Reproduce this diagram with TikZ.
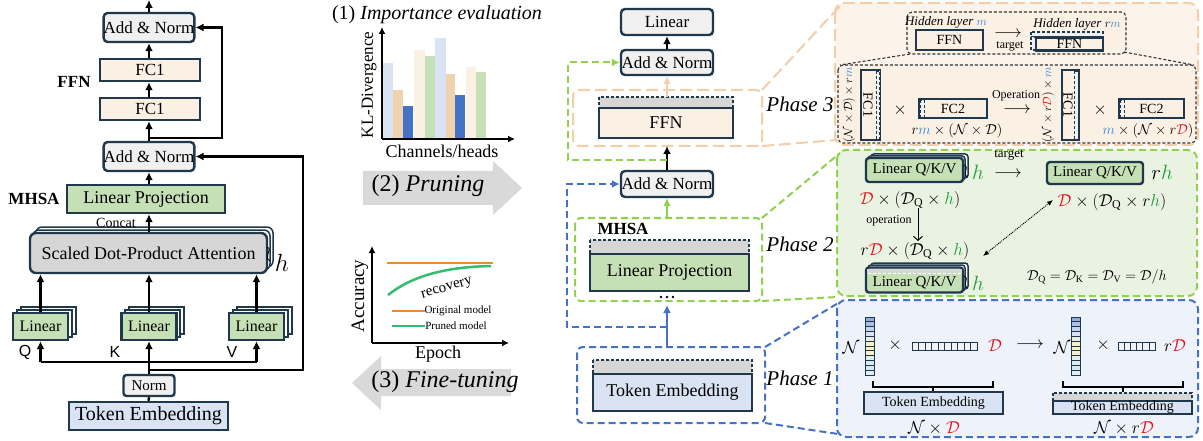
\documentclass[tikz,border=0pt]{standalone}
\usepackage{fontspec}
\setmainfont{Liberation Serif}
\newfontfamily\arialf{Liberation Sans}
\usetikzlibrary{arrows.meta,calc}
\definecolor{dk}{HTML}{1F384C}
\definecolor{lgray}{HTML}{F0F0F0}
\definecolor{mgray}{HTML}{D6D6D6}
\definecolor{cream}{HTML}{FBF0E4}
\definecolor{gfill}{HTML}{C5E0B4}
\definecolor{bfill}{HTML}{DAE3F3}
\definecolor{tanc}{HTML}{F2CFA8}
\definecolor{tanbar}{HTML}{EFD2AE}
\definecolor{bluec}{HTML}{4472C4}
\definecolor{lgreen}{HTML}{92D050}
\definecolor{orangec}{HTML}{F08A30}
\definecolor{curveg}{HTML}{33BD6E}
\definecolor{pthree}{HTML}{FCF4EB}
\definecolor{ptwo}{HTML}{EAF3E2}
\definecolor{pone}{HTML}{EEF2FA}
\definecolor{mblue}{HTML}{2E86DE}
\definecolor{hgreen}{HTML}{1E9E3A}
\definecolor{dred}{HTML}{E8141B}
\definecolor{arrgray}{HTML}{D9D9D9}
\newcommand{\fsz}[1]{\fontsize{#1}{#1}\selectfont}
\tikzset{
  blk/.style={draw=dk, line width=2.4pt, inner sep=0pt, text=black},
  rbox/.style={blk, rounded corners=4pt},
  arr/.style={-{Latex[length=8pt,width=8pt]}, line width=2.3pt},
  thinarr/.style={-{Latex[length=7pt,width=7pt]}, line width=1.8pt},
  backbox/.style={draw=dk, line width=1.5pt, fill=white},
  tandash/.style={draw=tanc, line width=2pt, dash pattern=on 12pt off 5pt},
  grdash/.style={draw=lgreen, line width=2pt, dash pattern=on 7pt off 4pt},
  bldash/.style={draw=bluec, line width=2pt, dash pattern=on 7pt off 4pt},
  kdash/.style={draw=black!80, line width=1.1pt, dash pattern=on 3pt off 2pt},
  strip/.style={draw=dk, line width=1.6pt, dash pattern=on 3pt off 2pt, fill=mgray},
}
\begin{document}
\begin{tikzpicture}[x=1pt,y=-1pt]
\useasboundingbox (0,0) rectangle (1203,441);

%================ LEFT ==================
\coordinate (topout) at (149,0);
\node[rbox,fill=lgray,minimum width=90pt,minimum height=29pt,font=\fsz{17}] (an2) at (149,27.5) {Add \& Norm};
\node[blk,fill=cream,minimum width=100pt,minimum height=22pt,font=\fsz{17}] (fca) at (150,70) {FC1};
\node[blk,fill=cream,minimum width=100pt,minimum height=22pt,font=\fsz{17}] (fcb) at (150,109) {FC1};
\node[font=\fsz{17}\bfseries] (ffnl) at (74,82) {FFN};
\node[rbox,fill=lgray,minimum width=90pt,minimum height=29pt,font=\fsz{17}] (an1) at (149,156.5) {Add \& Norm};
\node[blk,fill=gfill,minimum width=158pt,minimum height=28pt,font=\fsz{18}] (lp) at (146,199) {Linear Projection};
\node[font=\fsz{17}\bfseries] (mhsal) at (34,199) {MHSA};
% attention stack
\draw[backbox,rounded corners=6pt] (36,227) rectangle (273,267);
\draw[backbox,rounded corners=6pt] (33,230) rectangle (270,270);
\node[rbox,rounded corners=6pt,fill=mgray,minimum width=237pt,minimum height=40pt,font=\fsz{18}] (att) at (148.5,253) {Scaled Dot-Product Attention};
\draw[line width=0.9pt] (267,247) .. controls (274,250) and (262,256) .. (270,261);
\node[font=\fsz{24}] (hl) at (282,263) {$h$};
\node[font=\fsz{14}] (concat) at (116,223) {Concat};
% linear stacks
\draw[backbox] (21,307) rectangle (76,334);
\draw[backbox] (17,310) rectangle (72,337);
\node[blk,fill=gfill,minimum width=55pt,minimum height=27pt,font=\fsz{16}] (linq) at (40.5,326.5) {Linear};
\draw[backbox] (129,307) rectangle (184,334);
\draw[backbox] (125,310) rectangle (180,337);
\node[blk,fill=gfill,minimum width=55pt,minimum height=27pt,font=\fsz{16}] (link) at (149,326.5) {Linear};
\draw[backbox] (237,307) rectangle (292,334);
\draw[backbox] (233,310) rectangle (288,337);
\node[blk,fill=gfill,minimum width=55pt,minimum height=27pt,font=\fsz{16}] (linv) at (256.5,326.5) {Linear};
\node[font=\fsz{16}\arialf] (ql) at (25,352) {Q};
\node[font=\fsz{16}\arialf] (kl) at (115,352) {K};
\node[font=\fsz{16}\arialf] (vl) at (232,352) {V};
\node[rbox,rounded corners=3pt,fill=lgray,minimum width=51pt,minimum height=21pt,font=\fsz{15}] (norm) at (149,385.5) {Norm};
\node[blk,fill=bfill,minimum width=159pt,minimum height=28pt,font=\fsz{20}] (tok) at (148.5,416) {Token Embedding};
% left connectors
\draw[arr] (an2.north) -- (topout);
\draw[arr] (fca.north -| an2.south) -- (an2.south);
\draw[arr] (fcb.north -| an2.south) -- (fca.south -| an2.south);
\draw[arr] (an1.north) -- (fcb.south -| an1.north);
\draw[arr] (lp.north -| an1.south) -- (an1.south);
\draw[arr] (att.north -| an1.south) -- (lp.south -| an1.south);
\coordinate (r1a) at (149,138);
\coordinate (r1b) at (222,138);
\draw[arr] (r1a) -- (r1b) |- (an2.east);
\draw[arr] (linq.north) -- (linq.north |- att.south);
\draw[arr] (link.north) -- (link.north |- att.south);
\draw[arr] (linv.north) -- (linv.north |- att.south);
\coordinate (busl) at (40.5,362);
\coordinate (busm) at (149,362);
\coordinate (busr) at (256.5,362);
\draw[line width=2.3pt] (busl) -- (busr);
\draw[arr] (busl) -- (linq.south);
\draw[arr] (busr) -- (linv.south);
\draw[arr] (norm.north) -- (link.south);
\coordinate (r2a) at (149,370);
\coordinate (r2b) at (303,370);
\draw[arr] (r2a) -- (r2b) |- (an1.east);
\draw[line width=2.3pt] (tok.north) -- (norm.south);

%================ MIDDLE ==================
\node[font=\fsz{20}] (title) at (437,15) {(1) \textit{Importance evaluation}};
\fill[bfill] (383,63) rectangle (393,139);
\fill[tanbar] (393,90) rectangle (403,139);
\fill[bluec] (403,106) rectangle (413,139);
\fill[cream] (414,50) rectangle (425,139);
\fill[gfill] (425,56) rectangle (435,139);
\fill[bfill] (435,38) rectangle (446,139);
\fill[tanbar] (446,74) rectangle (455,139);
\fill[bluec] (455,95) rectangle (465,139);
\fill[cream] (466,67) rectangle (476,139);
\fill[gfill] (476,72) rectangle (486,139);
\coordinate (o1) at (382,139);
\coordinate (y1) at (382,27);
\coordinate (x1) at (515,139);
\draw[thinarr] (o1) -- (y1);
\draw[thinarr] (o1) -- (x1);
\node[rotate=90,font=\fsz{17}] (kll) at (369,85) {KL-Divergence};
\node[font=\fsz{18}] (chl) at (442,151) {Channels/heads};
\fill[arrgray] (363,171) -- (493,171) -- (493,161) -- (522,188) -- (493,215) -- (493,205) -- (363,205) -- cycle;
\node[font=\fsz{24}] (prl) at (428,186) {(2) \textit{Pruning}};
% accuracy
\coordinate (o2) at (372,343);
\coordinate (y2) at (372,246);
\coordinate (x2) at (509,343);
\draw[thinarr] (o2) -- (y2);
\draw[thinarr] (o2) -- (x2);
\draw[orangec,line width=2.5pt] (387,263) -- (493,263);
\draw[curveg,line width=2.5pt] (388,295) .. controls (412,276) and (445,267) .. (491,266);
\node[rotate=16,font=\fsz{15}] (rec) at (447,289) {recovery};
\draw[orangec,line width=2.5pt] (392,311) -- (425,311);
\draw[curveg,line width=2.5pt] (392,326) -- (425,326);
\node[font=\fsz{11}] (orl) at (458,311) {Original model};
\node[font=\fsz{11}] (pml) at (456,326) {Pruned model};
\node[rotate=90,font=\fsz{19}] (accl) at (360,296) {Accuracy};
\node[font=\fsz{18}] (epl) at (438,354) {Epoch};
\fill[arrgray] (511,369) -- (381,369) -- (381,356) -- (352,383) -- (381,410) -- (381,396) -- (511,396) -- cycle;
\node[font=\fsz{24}] (ftl) at (445,382) {(3) \textit{Fine-tuning}};

%================ RIGHT COLUMN ==================
\node[rbox,fill=lgray,minimum width=92pt,minimum height=26pt,font=\fsz{17}] (lin3) at (667,22) {Linear};
\node[rbox,fill=lgray,minimum width=92pt,minimum height=25pt,font=\fsz{17}] (an4) at (667,62.5) {Add \& Norm};
\draw[tandash,rounded corners=6pt] (573,90) rectangle (762,146);
\coordinate (p3s) at (667,146);
\draw[strip] (599,97) rectangle (733,108);
\node[blk,fill=cream,minimum width=134pt,minimum height=30pt,font=\fsz{18}] (ffn2) at (666,123) {FFN};
\node[rbox,fill=lgray,minimum width=92pt,minimum height=26pt,font=\fsz{17}] (an3) at (667,184) {Add \& Norm};
\draw[grdash,rounded corners=6pt] (575,218) rectangle (762,301);
\coordinate (p2n) at (667,218);
\node[font=\fsz{17}\bfseries] (mhsa2) at (623,229) {MHSA};
\draw[strip] (590,240) rectangle (749,254);
\node[blk,fill=gfill,minimum width=159pt,minimum height=37pt,font=\fsz{18}] (lp2) at (669.5,272.5) {Linear Projection};
\fill (661,297) circle (1.3);
\fill (667,297) circle (1.3);
\fill (673,297) circle (1.3);
\draw[bldash,rounded corners=6pt] (577,347) rectangle (765,423);
\coordinate (p1n) at (667,347);
\coordinate (p1top) at (667,305);
\draw[strip] (593,360) rectangle (752,374);
\node[blk,fill=bfill,minimum width=159pt,minimum height=37pt,font=\fsz{18}] (tok2) at (672.5,392.5) {Token Embedding};
% column connectors
\draw[arr] (an4.north) -- (lin3.south);
\draw[arr,draw=tanc] (667,97) -- (an4.south);
\draw[arr] (an3.north) -- (p3s);
\coordinate (g1) at (667,160);
\coordinate (g2) at (568,160);
\draw[grdash,-{Latex[length=8pt,width=8pt]}] (g1) -- (g2) |- (an4.west);
\draw[arr,draw=lgreen] (p2n) -- (an3.south);
\coordinate (b1) at (667,327);
\coordinate (b2) at (567,327);
\draw[bldash,-{Latex[length=8pt,width=8pt]}] (b1) -- (b2) |- (an3.west);
\draw[arr,draw=bluec] (p1n) -- (p1top);
% phase labels
\node[font=\fsz{21}\itshape] (ph3) at (800,104) {Phase 3};
\node[font=\fsz{21}\itshape] (ph2) at (800,244) {Phase 2};
\node[font=\fsz{21}\itshape] (ph1) at (800,378) {Phase 1};

%================ PHASE 3 PANEL ==================
\draw[tandash,fill=pthree,rounded corners=9pt] (835,3) rectangle (1198,145);
\draw[tandash] (762,90) -- (840,6);
\draw[tandash] (762,146) -- (837,140);
\draw[kdash,fill=cream,rounded corners=5pt] (907,12) rectangle (1126,54);
\draw[kdash,fill=cream,rounded corners=5pt] (838,65) rectangle (1196,143);
\draw[kdash] (910,54) -- (840,65);
\draw[kdash] (1124,52) -- (1194,65);
\node[font=\fsz{13}] (hl1) at (946,22) {\textit{Hidden layer} $\textcolor{mblue}{m}$};
\node[blk,fill=cream,minimum width=67pt,minimum height=20pt,font=\fsz{14}] (ffna) at (949.5,40) {FFN};
\node[font=\fsz{16}] (tar3) at (1008,34) {$\longrightarrow$};
\node[font=\fsz{12}] (tar3l) at (1010,46) {target};
\node[font=\fsz{13}] (hl2) at (1077,24) {\textit{Hidden layer} $r\textcolor{mblue}{m}$};
\draw[strip,fill=lgray] (1031,32) rectangle (1103,37);
\draw[strip,fill=lgray] (1031,37) rectangle (1036,50);
\node[blk,fill=cream,minimum width=67pt,minimum height=13pt,font=\fsz{14}] (ffnb) at (1069.5,44) {FFN};
% FC1 left
\node[blk,fill=cream,minimum width=19pt,minimum height=70pt] (fc1l) at (870.5,105) {};
\draw[strip,fill=lgray,line width=0.8pt] (876,71) rectangle (879.5,139);
\node[rotate=-90,font=\fsz{14}] at (868,105) {FC1};
\node[rotate=90,font=\fsz{12}] (lab1) at (849,105) {$(\mathcal{N}\times\mathcal{D})\times r\textcolor{mblue}{m}$};
\node[font=\fsz{16}] (x31) at (900,110) {$\times$};
\node[blk,fill=cream,minimum width=68pt,minimum height=19pt,font=\fsz{14}] (fc2l) at (953,108.5) {FC2};
\draw[strip,fill=lgray,line width=0.8pt] (920,100) rectangle (924,117);
\node[font=\fsz{15}] (lab2) at (957,131) {$r\textcolor{mblue}{m}\times(\mathcal{N}\times\mathcal{D})$};
\node[font=\fsz{12}] (opl) at (1016,96) {Operation};
\node[font=\fsz{18}] (opa) at (1017,110) {$\longrightarrow$};
\node[blk,fill=cream,minimum width=17pt,minimum height=70pt] (fc1r) at (1070.5,105) {};
\draw[strip,fill=lgray,line width=0.8pt] (1074,71) rectangle (1078,139);
\node[rotate=-90,font=\fsz{14}] at (1068,105) {FC1};
\node[rotate=90,font=\fsz{12}] (lab3) at (1048,105) {$(\mathcal{N}\times r\textcolor{dred}{\mathcal{D}})\times \textcolor{mblue}{m}$};
\node[font=\fsz{16}] (x32) at (1100,110) {$\times$};
\node[blk,fill=cream,minimum width=65pt,minimum height=19pt,font=\fsz{14}] (fc2r) at (1151.5,108.5) {FC2};
\draw[strip,fill=lgray,line width=0.8pt] (1120,100) rectangle (1124,117);
\node[font=\fsz{15}] (lab4) at (1148,131) {$\textcolor{mblue}{m}\times(\mathcal{N}\times r\textcolor{dred}{\mathcal{D}})$};

%================ PHASE 2 PANEL ==================
\draw[grdash,fill=ptwo,rounded corners=9pt] (837,150) rectangle (1197,296);
\draw[grdash] (762,218) -- (840,153);
\draw[grdash] (762,301) -- (837,297);
\draw[backbox,rounded corners=3pt] (871,154) rectangle (968,178);
\draw[backbox,rounded corners=3pt] (868,156) rectangle (965,180);
\node[blk,rounded corners=3pt,fill=gfill,minimum width=97pt,minimum height=24pt,font=\fsz{15}] (lqa) at (914.5,170) {Linear Q/K/V};
\draw[line width=0.9pt] (964,165) .. controls (970,168) and (962,172) .. (967,177);
\node[font=\fsz{20}] (ha) at (978,172) {$\textcolor{hgreen}{h}$};
\node[font=\fsz{13}] (tar2) at (1009,155) {target};
\node[font=\fsz{18}] (tar2a) at (1008,174) {$\longrightarrow$};
\node[blk,rounded corners=3pt,fill=gfill,minimum width=96pt,minimum height=22pt,font=\fsz{15}] (lqb) at (1095,173) {Linear Q/K/V};
\node[font=\fsz{20}] (hb) at (1162,172) {$r\textcolor{hgreen}{h}$};
\node[font=\fsz{17}] (m1) at (910,200) {$\textcolor{dred}{\mathcal{D}}\times(\mathcal{D}_{\mathrm{Q}}\times \textcolor{hgreen}{h})$};
\node[font=\fsz{17}] (m2) at (1112,202) {$\textcolor{dred}{\mathcal{D}}\times(\mathcal{D}_{\mathrm{Q}}\times r\textcolor{hgreen}{h})$};
\node[font=\fsz{12}] (opl2) at (889,221) {operation};
\coordinate (opd1) at (918,208);
\coordinate (opd2) at (918,241);
\draw[-{Straight Barb[length=4pt,width=9pt]},line width=1pt] (opd1) -- (opd2);
\node[font=\fsz{17}] (m3) at (915,251) {$r\textcolor{dred}{\mathcal{D}}\times(\mathcal{D}_{\mathrm{Q}}\times \textcolor{hgreen}{h})$};
\coordinate (dd1) at (983,256);
\coordinate (dd2) at (1053,200);
\draw[{Latex[length=6pt,width=5pt]}-{Latex[length=6pt,width=5pt]},densely dotted,line width=1pt] (dd1) -- (dd2);
\draw[backbox,rounded corners=3pt] (871,263) rectangle (968,289);
\draw[backbox,rounded corners=3pt] (868,265) rectangle (965,291);
\node[blk,rounded corners=3pt,fill=gfill,minimum width=97pt,minimum height=25pt] (lqc) at (914.5,280) {};
\fill[mgray] (867,268.5) rectangle (962,273);
\draw[white,line width=0.8pt,dash pattern=on 3pt off 2pt] (868,273) -- (961,273);
\node[font=\fsz{15}] (lqct) at (914.5,283) {Linear Q/K/V};
\draw[line width=0.9pt] (964,276) .. controls (970,279) and (962,283) .. (967,288);
\node[font=\fsz{20}] (hc) at (978,283) {$\textcolor{hgreen}{h}$};
\node[font=\fsz{14}] (deq) at (1097,277) {$\mathcal{D}_{\mathrm{Q}}=\mathcal{D}_{\mathrm{K}}=\mathcal{D}_{\mathrm{V}}=\mathcal{D}/h$};

%================ PHASE 1 PANEL ==================
\draw[bldash,fill=pone,rounded corners=9pt] (837,300) rectangle (1198,437);
\draw[bldash] (765,347) -- (840,302);
\draw[bldash] (765,423) -- (838,434);
\node[font=\fsz{17}] (n1) at (851,348) {$\mathcal{N}$};
\foreach \i/\cc in {0/8FAADC,1/A9BFE6,2/C3D3EE,3/D9E2F0,4/ECEBDD,5/F6EFC8,6/F8F0C0,7/F3EFD0,8/E2EEE8,9/D6ECEF,10/D2EAF0,11/DDF0F4}{
  \definecolor{cellc}{HTML}{\cc}
  \draw[draw=dk,line width=0.7pt,fill=cellc] (865,317+\i*4.83) rectangle (874,317+\i*4.83+4.83);
  \draw[draw=dk,line width=0.7pt,fill=cellc] (1071,317+\i*4.83) rectangle (1080,317+\i*4.83+4.83);
}
\node[font=\fsz{16}] (x11) at (895,345) {$\times$};
\foreach \i in {0,...,9}{
  \draw[draw=dk,line width=0.7pt,fill=white!60!bfill] (912+\i*6.5,342) rectangle (918.5+\i*6.5,350);
}
\node[font=\fsz{17}] (d1) at (995,346) {$\textcolor{dred}{\mathcal{D}}$};
\node[font=\fsz{18}] (ar1) at (1030,345) {$\longrightarrow$};
\node[font=\fsz{17}] (n2) at (1062,348) {$\mathcal{N}$};
\node[font=\fsz{16}] (x12) at (1103,345) {$\times$};
\foreach \i in {0,...,5}{
  \draw[draw=dk,line width=0.7pt,fill=white!60!bfill] (1118+\i*6.17,342) rectangle (1124.17+\i*6.17,350);
}
\node[font=\fsz{17}] (d2) at (1175,346) {$r\textcolor{dred}{\mathcal{D}}$};
\draw[line width=2.2pt] (873,381) -- (873,387) -- (993,387) -- (993,381);
\draw[line width=2.2pt] (933,387) -- (933,392);
\draw[line width=2.2pt] (1063,381) -- (1063,387) -- (1183,387) -- (1183,381);
\draw[line width=2.2pt] (1123,387) -- (1123,392);
\node[blk,fill=bfill,minimum width=139pt,minimum height=22pt,font=\fsz{14}] (tok3) at (933.5,403) {Token Embedding};
\node[font=\fsz{17}] (nd1) at (934,428) {$\mathcal{N}\times\textcolor{dred}{\mathcal{D}}$};
\draw[strip] (1053,393) rectangle (1192,401);
\node[blk,fill=bfill,minimum width=139pt,minimum height=13pt,font=\fsz{14}] (tok4) at (1122.5,407.5) {Token Embedding};
\node[font=\fsz{17}] (nd2) at (1124,428) {$\mathcal{N}\times r\textcolor{dred}{\mathcal{D}}$};
\end{tikzpicture}
\end{document}
